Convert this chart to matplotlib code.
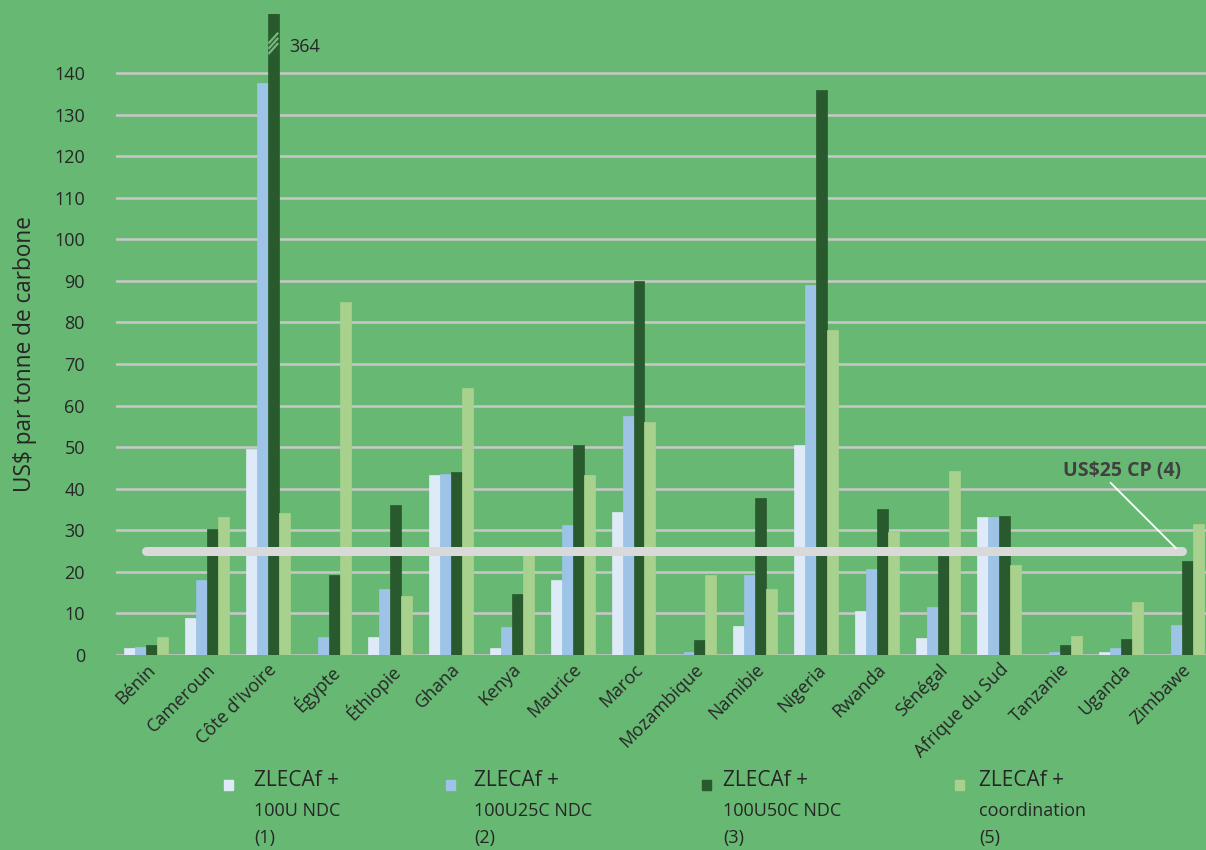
import matplotlib
matplotlib.use("Agg")
import matplotlib.pyplot as plt
import numpy as np

plt.rcParams['font.family'] = ['Open Sans', 'DejaVu Sans']

countries = ["Bénin", "Cameroun", "Côte d'Ivoire", "Égypte", "Éthiopie", "Ghana",
             "Kenya", "Maurice", "Maroc", "Mozambique", "Namibie", "Nigeria",
             "Rwanda", "Sénégal", "Afrique du Sud", "Tanzanie", "Uganda", "Zimbawe"]
s1_100U = [1.6, 8.9, 49.5, 0, 4.3, 43.2, 1.6, 18.0, 34.5, 0, 6.9, 50.5, 10.6, 4.1, 33.1, 0, 0.7, 0]
s2_100U25C = [1.9, 18.0, 137.5, 4.3, 15.9, 43.5, 6.7, 31.3, 57.5, 0.7, 19.2, 89.0, 20.6, 11.5, 33.3, 0.7, 1.7, 7.2]
s3_100U50C = [2.4, 30.2, 364, 19.2, 36.2, 44.0, 14.7, 50.5, 90.0, 3.6, 37.8, 136.0, 35.2, 23.7, 33.5, 2.4, 3.9, 22.5]
s5_coord = [4.3, 33.2, 34.2, 85.0, 14.2, 64.2, 24.7, 43.4, 56.0, 19.2, 15.9, 78.2, 29.5, 44.2, 21.6, 4.6, 12.8, 31.6]
carbon_price = 25
series_names = [("ZLECAf +", "100U NDC", "(1)"),
                ("ZLECAf +", "100U25C NDC", "(2)"),
                ("ZLECAf +", "100U50C NDC", "(3)"),
                ("ZLECAf +", "coordination", "(5)")]
yticks = list(range(0, 150, 10))

bg = '#67B873'
colors = ['#DEEAF7', '#9DC3E6', '#295A2E', '#A9D18E']
txt = '#262626'

fig = plt.figure(figsize=(12.06, 8.5), dpi=100, facecolor=bg)
ax = fig.add_axes([115.5/1206, 1-655/850, (1212.5-115.5)/1206, (655-14)/850])
ax.set_facecolor(bg)

ymax = (655-14)/4.157
x = np.arange(len(countries))
w = 0.18
data = [s1_100U, s2_100U25C, s3_100U50C, s5_coord]
for i, (vals, c) in enumerate(zip(data, colors)):
    ax.bar(x + (i-1.5)*w, vals, width=w, color=c, edgecolor=c, linewidth=0.5, zorder=3)

ax.set_xlim(-0.5, len(countries)-0.5)
ax.set_ylim(0, ymax)
ax.set_yticks(yticks)
ax.set_yticklabels([str(t) for t in yticks], fontsize=13, color=txt)
ax.yaxis.grid(True, color='#C8C8C8', linewidth=1.8, zorder=0)
ax.set_axisbelow(True)
ax.tick_params(axis='y', length=0, pad=22)
ax.tick_params(axis='x', length=0, pad=4)
ax.set_xticks(x)
ax.set_xticklabels(countries, rotation=45, ha='right', rotation_mode='anchor',
                   fontsize=13, color=txt)
for s in ax.spines.values():
    s.set_visible(False)
ax.set_ylabel("US$ par tonne de carbone", fontsize=16.3, color=txt)
ax.yaxis.set_label_coords(-0.072, 0.47)

# break marks on Côte d'Ivoire bar
ci = countries.index("Côte d'Ivoire")
bx = ci + 0.5*w
for k in range(3):
    y0 = 144.6 + k*1.25
    ax.plot([bx - w/2 + 0.01, bx + w/2 - 0.01], [y0, y0 + 2.6], color='#74B97B',
            linewidth=1.6, zorder=4, solid_capstyle='butt')
ax.text(bx + w/2 + 0.17, 146.2, str(s3_100U50C[ci]), fontsize=13, color=txt,
        va='center', ha='left')

# carbon price line
ax.plot([x[0], x[-1]], [carbon_price, carbon_price], color='#D9D9D9',
        linewidth=6.5, solid_capstyle='round', zorder=5)
ax.plot([15.83, 16.90], [41.4, 25.7], color='white', linewidth=1.3, zorder=6)
ax.text(16.02, 44.2, "US$25 CP (4)", fontsize=14, fontweight='bold', color='#404040',
        ha='center', va='center', zorder=6)

# legend
mk_x = [229, 450, 706, 959]
tx_x = [254, 474, 723, 979]
for i in range(4):
    fig.patches.append(plt.Rectangle((mk_x[i]/1206 - 4.5/1206, 1 - 790/850), 9/1206, 10/850,
                                     transform=fig.transFigure, color=colors[i]))
    l1, l2, l3 = series_names[i]
    fig.text(tx_x[i]/1206, 1 - 781/850, l1, fontsize=15, color=txt, va='center', ha='left')
    fig.text(tx_x[i]/1206, 1 - 811/850, l2, fontsize=13, color=txt, va='center', ha='left')
    fig.text(tx_x[i]/1206, 1 - 838/850, l3, fontsize=13, color=txt, va='center', ha='left')

fig.savefig("out.png", dpi=100, facecolor=bg)
